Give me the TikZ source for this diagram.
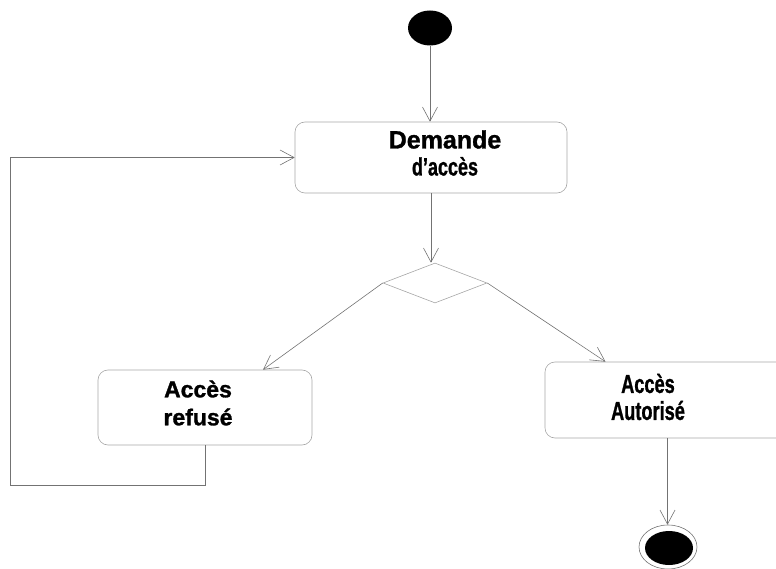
\documentclass[tikz,border=0pt]{standalone}
\usepackage{fontspec}
\setmainfont{Liberation Sans}[BoldFeatures={FakeBold=1.2}]
\usetikzlibrary{arrows.meta,shapes.geometric}

\tikzset{
  flow/.style={draw=black!55, line width=0.6pt},
  arr/.style={flow, -{Straight Barb[length=14pt,width=15pt,line width=0.6pt]}},
  activity/.style={draw=black!35, line width=0.6pt, rounded corners=10pt,
    rectangle, inner sep=0pt},
  label/.style={font=\bfseries, align=center, inner sep=0pt},
  choice/.style={diamond, draw=black!35, line width=0.6pt, inner sep=0pt,
    minimum width=104pt, minimum height=40pt},
}

\begin{document}
\begin{tikzpicture}[x=1pt,y=-1pt]
  \useasboundingbox (0,0) rectangle (776,569);

  % initial state
  \node[ellipse, fill=black, minimum width=44pt, minimum height=35pt,
        inner sep=0pt] (start) at (430,28) {};

  % activities
  \node[activity, minimum width=272pt, minimum height=71pt] (dem) at (431,157.5) {};
  \node[label, font=\fontsize{25}{27}\selectfont\bfseries] (demtxt) at (445,153)
       {Demande\\\scalebox{0.72}[1]{d'accès}};

  \node[choice] (dia) at (435,283) {};

  \node[activity, minimum width=214pt, minimum height=75pt] (ref) at (205,407.5) {};
  \node[label, font=\fontsize{23}{28}\selectfont\bfseries] (reftxt) at (198,403)
       {Accès\\refusé};

  \node[activity, minimum width=245pt, minimum height=76pt] (aut) at (667.5,400) {};
  \node[label, font=\fontsize{26}{27}\selectfont\bfseries] (auttxt) at (648,397)
       {\scalebox{0.7}[1]{Accès}\\\scalebox{0.7}[1]{Autorisé}};

  % final state
  \node[ellipse, draw=black!55, line width=0.6pt, minimum width=58pt,
        minimum height=44pt, inner sep=0pt] (endo) at (668,547) {};
  \node[ellipse, fill=black, minimum width=48pt, minimum height=34pt,
        inner sep=0pt] (endi) at (669,548) {};

  % transitions
  \draw[arr] (start.south) -- (start.south |- dem.north);
  \draw[arr] (dem.south) -- (dem.south |- dia.north);
  \draw[arr] (dia.west) -- ([xshift=58pt]ref.north);
  \draw[arr] (dia.east) -- ([xshift=-62pt]aut.north);
  \draw[arr] (aut.south) -- (aut.south |- endo.north);

  % loop back to the request
  \coordinate (lb) at (10,485);
  \draw[arr] (ref.south) |- (lb) |- (dem.west);
\end{tikzpicture}
\end{document}
